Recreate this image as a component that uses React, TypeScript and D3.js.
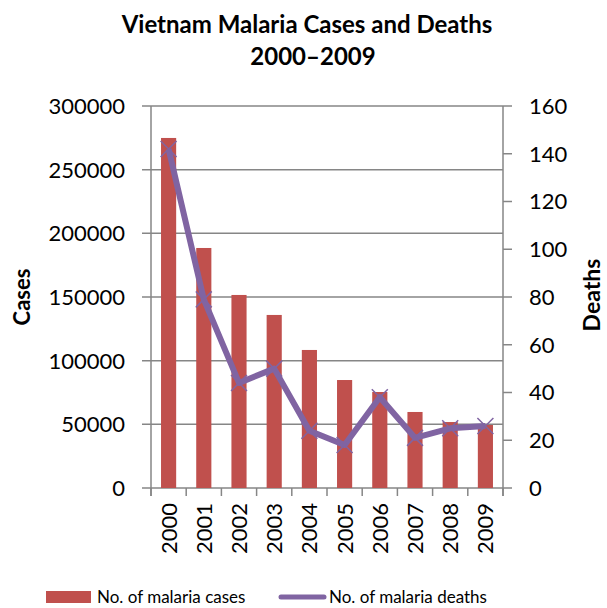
import * as d3 from 'd3';

const years = ['2000', '2001', '2002', '2003', '2004', '2005', '2006', '2007', '2008', '2009'];
const cases = [274900, 188500, 151600, 135900, 108400, 84800, 75400, 59700, 51800, 49500];
const deaths = [142, 79, 44, 50, 24, 18, 38, 21, 25, 26];
const caseTicks = [0, 50000, 100000, 150000, 200000, 250000, 300000];
const deathTicks = [0, 20, 40, 60, 80, 100, 120, 140, 160];

const W = 607;
const H = 608;
const plot = { left: 151, right: 503, top: 106, bottom: 488 };
const font = 'Lato, "Open Sans", sans-serif';
const grey = '#868686';
const barColor = '#C0504D';
const lineColor = '#8064A2';

function App() {
  const x = d3.scaleBand().domain(years).range([plot.left, plot.right]).paddingInner(0.57).paddingOuter(0.285);
  const band = d3.scaleBand().domain(years).range([plot.left, plot.right]);
  const yL = d3.scaleLinear().domain([0, 300000]).range([plot.bottom, plot.top]);
  const yR = d3.scaleLinear().domain([0, 160]).range([plot.bottom, plot.top]);
  const line = d3
    .line<number>()
    .x((_d, i) => (band(years[i]) as number) + band.bandwidth() / 2)
    .y((d) => yR(d));
  const boundaries = years.map((y) => band(y) as number).concat([plot.right]);

  return (
    <svg width={W} height={H} style={{ position: 'absolute', left: 0, top: 0, background: '#fff' }}>
      {/* title */}
      <text x={307} y={33} textAnchor="middle" fontFamily={font} fontWeight="bold" fontSize={24} fill="#000">
        Vietnam Malaria Cases and Deaths
      </text>
      <text x={313} y={65} textAnchor="middle" fontFamily={font} fontWeight="bold" fontSize={24} fill="#000">
        2000–2009
      </text>

      {/* gridlines + left axis */}
      {caseTicks.map((t) => (
        <g key={t}>
          <line x1={plot.left - 9} x2={plot.right} y1={yL(t)} y2={yL(t)} stroke={grey} strokeWidth={1.5} />
          <text x={125} y={yL(t)} dy="0.36em" textAnchor="end" fontFamily={font} fontSize={22} fill="#000">
            {t}
          </text>
        </g>
      ))}
      <line x1={plot.left} x2={plot.left} y1={plot.top} y2={plot.bottom + 8} stroke={grey} strokeWidth={1.5} />

      {/* right axis */}
      <line x1={plot.right} x2={plot.right} y1={plot.top} y2={plot.bottom + 8} stroke={grey} strokeWidth={1.5} />
      {deathTicks.map((t) => (
        <g key={t}>
          <line x1={plot.right} x2={plot.right + 9} y1={yR(t)} y2={yR(t)} stroke={grey} strokeWidth={1.5} />
          <text x={529} y={yR(t)} dy="0.36em" textAnchor="start" fontFamily={font} fontSize={22} fill="#000">
            {t}
          </text>
        </g>
      ))}

      {/* x axis ticks */}
      {boundaries.map((b, i) => (
        <line key={i} x1={b} x2={b} y1={plot.bottom} y2={plot.bottom + 8} stroke={grey} strokeWidth={1.5} />
      ))}

      {/* bars */}
      {cases.map((c, i) => (
        <rect
          key={years[i]}
          x={x(years[i])}
          y={yL(c)}
          width={x.bandwidth()}
          height={plot.bottom - yL(c)}
          fill={barColor}
        />
      ))}

      {/* deaths line */}
      <path d={line(deaths) || ''} fill="none" stroke={lineColor} strokeWidth={6} strokeLinejoin="round" />
      {deaths.map((d, i) => {
        const cx = (band(years[i]) as number) + band.bandwidth() / 2;
        const cy = yR(d);
        const s = 8;
        return (
          <path
            key={years[i]}
            d={`M${cx - s},${cy - s}L${cx + s},${cy + s}M${cx - s},${cy + s}L${cx + s},${cy - s}`}
            stroke={lineColor}
            strokeWidth={1.5}
          />
        );
      })}

      {/* x labels */}
      {years.map((y) => {
        const cx = (band(y) as number) + band.bandwidth() / 2;
        return (
          <text
            key={y}
            transform={`translate(${cx},503) rotate(-90)`}
            dy="0.36em"
            textAnchor="end"
            fontFamily={font}
            fontSize={22}
            fill="#000"
          >
            {y}
          </text>
        );
      })}

      {/* axis titles */}
      <text transform="translate(22,297) rotate(-90)" dy="0.36em" textAnchor="middle" fontFamily={font} fontWeight="bold" fontSize={22} fill="#000">
        Cases
      </text>
      <text transform="translate(592,295) rotate(-90)" dy="0.36em" textAnchor="middle" fontFamily={font} fontWeight="bold" fontSize={23} fill="#000">
        Deaths
      </text>

      {/* legend */}
      <rect x={46} y={591} width={45} height={12} fill={barColor} />
      <text x={97} y={597} dy="0.36em" fontFamily={font} fontSize={17} fill="#000">
        No. of malaria cases
      </text>
      <line x1={281} x2={324} y1={597} y2={597} stroke={lineColor} strokeWidth={5} strokeLinecap="round" />
      <text x={329} y={597} dy="0.36em" fontFamily={font} fontSize={17} fill="#000">
        No. of malaria deaths
      </text>
    </svg>
  );
}

export default App;
